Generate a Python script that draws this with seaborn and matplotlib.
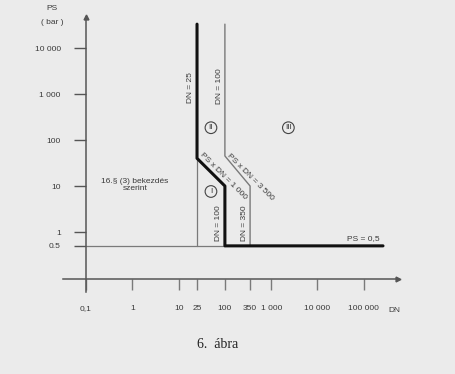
import matplotlib
matplotlib.use("Agg")
import matplotlib.pyplot as plt
import matplotlib.transforms as mtransforms
from matplotlib.ticker import NullLocator
import seaborn as sns

# ---------------- data ----------------
x_ticks = [0.1, 1, 10, 25, 100, 350, 1000, 10000, 100000]
x_tick_labels = ["0,1", "1", "10", "25", "100", "350", "1 000", "10 000", "100 000"]
y_ticks = [0.5, 1, 10, 100, 1000, 10000]
y_tick_labels = ["0.5", "1", "10", "100", "1 000", "10 000"]

# thick boundary: DN=25 -> PS*DN=1000 -> DN=100 -> PS=0.5
thick_dn = [25, 25, 100, 100, 260000]
thick_ps = [33000, 40, 10, 0.5, 0.5]
# thin boundary: DN=100 -> PS*DN=3500 -> DN=350
thin_dn = [100, 100, 350, 350]
thin_ps = [33000, 45, 10, 0.5]
# thin DN=25 continuation
dn25_dn = [25, 25]
dn25_ps = [40, 0.5]
# thin PS=0.5 line
ps05_dn = [0.1, 100]
ps05_ps = [0.5, 0.5]

# ---------------- style ----------------
sns.set_theme(style="white")
plt.rcParams["font.family"] = ["Liberation Sans", "DejaVu Sans"]

BG = "#ebebeb"
TXT = "#3a3a3a"
AX = "#555555"
THIN = "#7a7a7a"
FS = 6.0

fig = plt.figure(figsize=(4.56, 3.74), dpi=100, facecolor=BG)
ax = fig.add_axes([63 / 456, (374 - 292) / 374, 335 / 456, 275 / 374])
ax.set_facecolor(BG)
ax.set_xscale("log")
ax.set_yscale("log")
ax.set_xlim(10 ** -1.497, 10 ** 5.739)
ax.set_ylim(10 ** -1.304, 10 ** 4.674)

y_axis_pos = 10 ** (-47 / 46)
for s in ["top", "right"]:
    ax.spines[s].set_visible(False)
ax.spines["left"].set_position(("data", 0.1))
ax.spines["bottom"].set_position(("data", y_axis_pos))
for s in ["left", "bottom"]:
    ax.spines[s].set_color(AX)
    ax.spines[s].set_linewidth(1.1)

ax.set_xticks(x_ticks)
ax.set_xticklabels(x_tick_labels)
ax.set_yticks(y_ticks)
ax.set_yticklabels(y_tick_labels)
ax.xaxis.set_minor_locator(NullLocator())
ax.yaxis.set_minor_locator(NullLocator())
ax.tick_params(axis="x", bottom=True, direction="out", length=8, width=1, color=THIN,
               pad=11, labelsize=FS, labelcolor=TXT)
ax.tick_params(axis="y", left=True, direction="out", length=8.6, width=1, color=AX,
               pad=9.5, labelsize=FS, labelcolor=TXT)
ax.grid(False)

# arrows at axis ends
tr_y = mtransforms.blended_transform_factory(ax.transData, ax.transAxes)
tr_x = mtransforms.blended_transform_factory(ax.transAxes, ax.transData)
ax.plot([0.1], [1.0], marker="^", ms=3.5, color=AX, transform=tr_y, clip_on=False)
ax.plot([1.0], [y_axis_pos], marker=">", ms=3.5, color=AX, transform=tr_x, clip_on=False)

# ---------------- lines ----------------
sns.lineplot(x=ps05_dn, y=ps05_ps, sort=False, estimator=None, color=THIN, linewidth=0.9, ax=ax)
sns.lineplot(x=dn25_dn, y=dn25_ps, sort=False, estimator=None, color=THIN, linewidth=0.9, ax=ax)
sns.lineplot(x=thin_dn, y=thin_ps, sort=False, estimator=None, color=THIN, linewidth=1.0, ax=ax)
sns.lineplot(x=thick_dn, y=thick_ps, sort=False, estimator=None, color="#111111", linewidth=2.2,
             ax=ax)

# ---------------- annotations ----------------
kw = dict(fontsize=FS, color=TXT, ha="center", va="center")
ax.text(18.5, 1350, "DN = 25", rotation=90, **kw)
ax.text(74.7, 1490, "DN = 100", rotation=90, **kw)
ax.text(71, 1.57, "DN = 100", rotation=90, **kw)
ax.text(259, 1.57, "DN = 350", rotation=90, **kw)
ax.text(93, 16.5, "PS x DN = 1 000", rotation=-45, rotation_mode="anchor", **kw)
ax.text(348, 15.5, "PS x DN = 3 500", rotation=-45, rotation_mode="anchor", **kw)
ax.text(1.0e5, 0.705, "PS = 0,5", **kw)
ax.text(1.14, 10.5, "16.§ (3) bekezdés\nszerint", linespacing=0.95, **kw)

circ = dict(boxstyle="circle,pad=0.28", fc="none", ec="#444444", lw=0.8)
ckw = dict(fontsize=6.0, color=TXT, ha="center", va="center", bbox=circ)
ax.text(50, 185, "II", **ckw)
ax.text(2350, 185, "III", **ckw)
ax.text(50, 7.6, "I", **ckw)

# axis titles
fig.text(52 / 456, 1 - 8 / 374, "PS", fontsize=FS, color=TXT, ha="center", va="center")
fig.text(52 / 456, 1 - 23 / 374, "( bar )", fontsize=FS, color=TXT, ha="center", va="center")
fig.text(394 / 456, 1 - 310 / 374, "DN", fontsize=FS, color=TXT, ha="center", va="center")

fig.text(218 / 456, 1 - 344 / 374, "6.  ábra", fontsize=10, color="#222222",
         family=["Liberation Serif", "DejaVu Serif"], ha="center", va="center")

fig.savefig("out.png", dpi=100, facecolor=BG)
